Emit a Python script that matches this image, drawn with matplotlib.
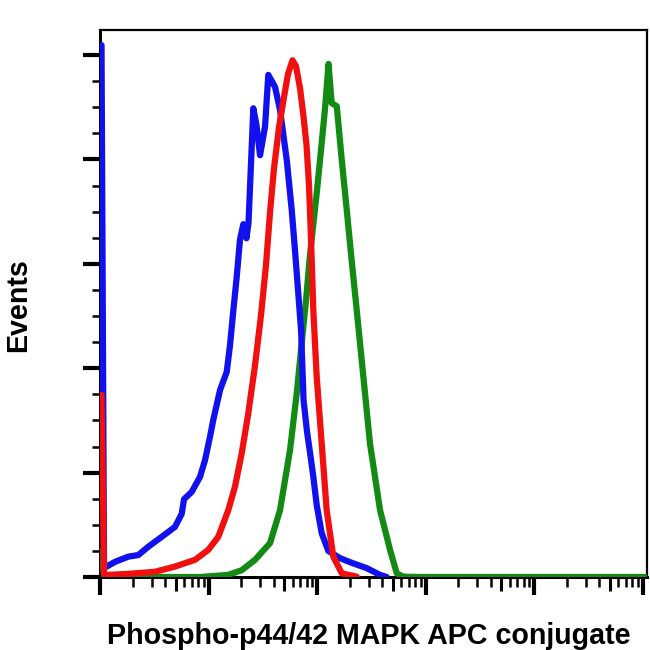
import numpy as np
import matplotlib
matplotlib.use("Agg")
import matplotlib.pyplot as plt
from matplotlib.ticker import FixedLocator, NullFormatter

# ---- data (x as log10 intensity, y as % of max events) ----
blue_logx = [0.014, 0.037, 0.062, 0.138, 0.261, 0.353, 0.445, 0.569, 0.691, 0.753,
             0.774, 0.845, 0.922, 0.968, 1.014, 1.044, 1.106, 1.168, 1.198, 1.229,
             1.260, 1.290, 1.321, 1.350, 1.369, 1.413, 1.442, 1.475, 1.521, 1.551,
             1.613, 1.659, 1.721, 1.767, 1.797, 1.827, 1.853, 1.876, 1.908, 1.935,
             1.966, 1.997, 2.043, 2.104, 2.212, 2.335, 2.458, 2.581, 2.642]
blue_y = [101.9, 2.3, 2.0, 2.9, 3.9, 4.2, 5.8, 7.7, 9.6, 12.1,
          14.9, 16.3, 19.2, 22.4, 26.9, 30.1, 35.8, 39.3, 44.4, 51.1,
          57.5, 64.6, 67.6, 64.9, 68.0, 89.8, 86.6, 80.8, 86.3, 96.2,
          93.9, 89.5, 79.9, 70.3, 62.6, 54.4, 47.3, 33.9, 27.8, 23.9,
          19.2, 13.8, 8.4, 5.0, 3.6, 2.6, 1.7, 0.4, 0.0]

red_logx = [0.014, 0.037, 0.062, 0.261, 0.507, 0.691, 0.876, 0.998, 1.090, 1.182,
            1.244, 1.306, 1.364, 1.429, 1.484, 1.530, 1.567, 1.604, 1.650, 1.696,
            1.733, 1.774, 1.806, 1.843, 1.874, 1.903, 1.926, 1.945, 1.966, 1.997,
            2.043, 2.089, 2.150, 2.228, 2.366]
red_y = [34.9, 0.6, 0.4, 0.6, 1.0, 2.0, 3.3, 5.2, 7.7, 12.8,
         17.3, 23.7, 31.0, 40.6, 50.2, 59.8, 69.9, 78.4, 86.2, 92.0,
         96.4, 99.0, 97.9, 93.7, 88.5, 82.8, 75.1, 64.6, 51.1, 38.4,
         25.6, 12.8, 3.9, 0.7, 0.06]

green_logx = [0.014, 0.037, 0.46, 0.922, 1.182, 1.306, 1.429, 1.567, 1.659, 1.751,
              1.813, 1.859, 1.899, 1.935, 1.997, 2.043, 2.074, 2.106, 2.135, 2.182,
              2.228, 2.274, 2.319, 2.366, 2.427, 2.488, 2.581, 2.673, 2.735, 2.795,
              2.949, 5.05]
green_y = [5.0, 0.2, 0.0, 0.0, 0.4, 1.3, 3.3, 6.5, 12.8, 24.3,
           35.2, 44.8, 53.1, 61.7, 73.5, 83.1, 89.8, 98.3, 90.8, 90.2,
           79.9, 70.3, 60.7, 51.1, 38.4, 25.6, 12.8, 5.2, 0.7, 0.06,
           0.0, 0.0]

x_label = "Phospho-p44/42 MAPK APC conjugate"
y_label = "Events"

y_major = [0, 20, 40, 60, 80, 100]
y_minor = [5, 10, 15, 25, 30, 35, 45, 50, 55, 65, 70, 75, 85, 90, 95]
decades = [0, 1, 2, 3, 4, 5]

# ---- figure ----
fig = plt.figure(figsize=(6.5, 6.5), dpi=100)
ax = fig.add_axes([100 / 650, 1 - 577 / 650, 547 / 650, 547 / 650])

lw = 4.5
ax.plot(10 ** np.array(green_logx), green_y, color="#138a13", lw=lw,
        solid_joinstyle="round", solid_capstyle="round", zorder=3)
ax.plot(10 ** np.array(blue_logx), blue_y, color="#1111ee", lw=lw,
        solid_joinstyle="round", solid_capstyle="round", zorder=4)
ax.plot(10 ** np.array(red_logx), red_y, color="#f01010", lw=lw,
        solid_joinstyle="round", solid_capstyle="round", zorder=5)

ax.set_xscale("log")
ax.set_xlim(10 ** 0, 10 ** 5.041)
ax.set_ylim(0, 104.8)

# y ticks
ax.yaxis.set_major_locator(FixedLocator(y_major))
ax.yaxis.set_minor_locator(FixedLocator(y_minor))
ax.yaxis.set_major_formatter(NullFormatter())
ax.yaxis.set_minor_formatter(NullFormatter())
ax.tick_params(axis="y", which="major", length=12, width=3, direction="out", color="black")
ax.tick_params(axis="y", which="minor", length=6, width=1.8, direction="out", color="black")

# x ticks
xmaj = [10.0 ** d for d in decades]
xmin = [m * 10.0 ** d for d in decades[:-1] for m in (2, 3, 4, 6, 7, 8, 9)]
xmed = [5 * 10.0 ** d for d in decades[:-1]]
ax.xaxis.set_major_locator(FixedLocator(xmaj))
ax.xaxis.set_minor_locator(FixedLocator(xmin))
ax.xaxis.set_major_formatter(NullFormatter())
ax.xaxis.set_minor_formatter(NullFormatter())
ax.tick_params(axis="x", which="major", length=13, width=3, direction="out", color="black")
ax.tick_params(axis="x", which="minor", length=7, width=1.8, direction="out", color="black")

sec = ax.secondary_xaxis("bottom")
sec.set_xticks(xmed)
sec.xaxis.set_minor_locator(FixedLocator([]))
sec.set_xticklabels([])
sec.tick_params(axis="x", which="major", length=10, width=2.2, direction="out", color="black")
sec.spines["bottom"].set_visible(False)

for s in ax.spines.values():
    s.set_linewidth(1.6)
    s.set_color("black")
ax.spines["left"].set_linewidth(2.2)
ax.spines["bottom"].set_linewidth(2.2)

fig.text(0.5 * (107 + 630) / 650, 6 / 650, x_label, ha="center", va="baseline",
         fontsize=20.6, fontweight="bold", family=["Liberation Sans", "DejaVu Sans"])
fig.text(18 / 650, 1 - 305 / 650, y_label, ha="center", va="center", rotation=90,
         fontsize=20.6, fontweight="bold", family=["Liberation Sans", "DejaVu Sans"])

fig.savefig("out.png", dpi=100)
